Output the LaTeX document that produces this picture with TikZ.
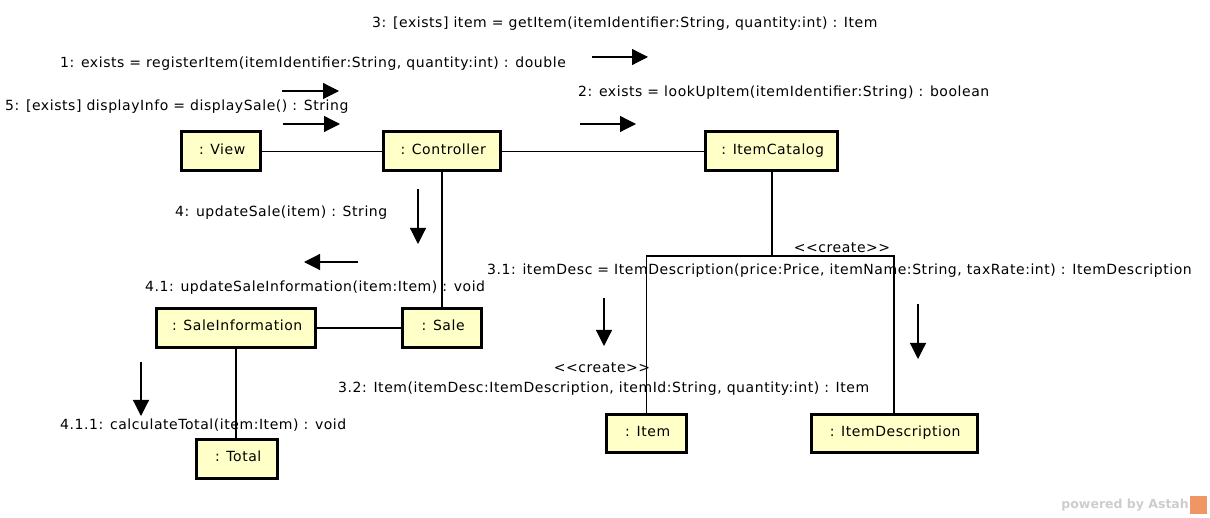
\documentclass[tikz,border=0pt]{standalone}
\usepackage{fontspec}
\setmainfont{DejaVu Sans}[LetterSpace=4]
\usetikzlibrary{arrows.meta}
\definecolor{boxfill}{RGB}{255,255,200}
\definecolor{astahgray}{RGB}{205,205,205}
\definecolor{astahorange}{RGB}{240,150,100}
\newfontfamily\wmfont{DejaVu Sans}
\newcommand{\objtext}[1]{\raisebox{5pt}{\,#1}}
\tikzset{
  obj/.style={draw=black, line width=3pt, fill=boxfill, inner sep=0pt, minimum height=39pt, font=\fontsize{14}{16}\selectfont},
  msg/.style={anchor=west, inner sep=0pt, font=\fontsize{14}{16}\selectfont, yshift=-2pt},
  link/.style={draw=black, line width=1.1pt},
  flow/.style={draw=black, line width=1.2pt, -{Triangle[length=16pt,width=16pt]}},
}
\begin{document}
\begin{tikzpicture}[x=1pt,y=-1pt]
\useasboundingbox (0,0) rectangle (1210,518);
% objects
\node[obj, minimum width=79pt] (view) at (221,151.5) {\objtext{: View}};
\node[obj, minimum width=117pt] (ctrl) at (442,151.5) {\objtext{: Controller}};
\node[obj, minimum width=132pt] (cat) at (771.5,151.5) {\objtext{: ItemCatalog}};
\node[obj, minimum width=159pt] (sinfo) at (236,328) {\objtext{: SaleInformation}};
\node[obj, minimum width=79pt] (sale) at (442,328) {\objtext{: Sale}};
\node[obj, minimum width=81pt] (total) at (237,459) {\objtext{: Total}};
\node[obj, minimum width=80pt, minimum height=38pt] (item) at (646.5,433.5) {\objtext{: Item}};
\node[obj, minimum width=166pt, minimum height=38pt] (idesc) at (894,433.5) {\objtext{: ItemDescription}};
% links
\draw[link] (view.east) -- (ctrl.west);
\draw[link] (ctrl.east) -- (cat.west);
\draw[link] (ctrl.south) -- (ctrl.south |- sale.north);
\draw[link] (sinfo.east) -- (sale.west);
\draw[link] (sinfo.south) -- (sinfo.south |- total.north);
\coordinate (fork) at (772,256);
\draw[link] (cat.south -| fork) -- (fork);
\draw[link] (item.north) |- (fork) -| (idesc.north);
% messages
\node[msg] (m3) at (372,22) {3: [exists] item = getItem(itemIdentifier:String, quantity:int) : Item};
\node[msg] (m1) at (60,62) {1: exists = registerItem(itemIdentifier:String, quantity:int) : double};
\node[msg] (m2) at (578,91) {2: exists = lookUpItem(itemIdentifier:String) : boolean};
\node[msg] (m5) at (5,105) {5: [exists] displayInfo = displaySale() : String};
\node[msg] (m4) at (175,211) {4: updateSale(item) : String};
\node[msg] (m41) at (145,286) {4.1: updateSaleInformation(item:Item) : void};
\node[msg] (m411) at (60,423) {4.1.1: calculateTotal(item:Item) : void};
\node[msg] (m31) at (487,269) {3.1: itemDesc = ItemDescription(price:Price, itemName:String, taxRate:int) : ItemDescription};
\node[msg] (m32) at (338,387) {3.2: Item(itemDesc:ItemDescription, itemId:String, quantity:int) : Item};
\node[msg, anchor=center] (c1) at (842,246) {<{}<create>{}>};
\node[msg, anchor=center] (c2) at (602,366) {<{}<create>{}>};
% message arrows
\draw[flow] (592,57) -- (648,57);
\draw[flow] (282,91) -- (339,91);
\draw[flow] (283,124) -- (340,124);
\draw[flow] (580,124) -- (636,124);
\draw[flow] (418,189) -- (418,244);
\draw[flow] (358,262) -- (304,262);
\draw[flow] (141,362) -- (141,416);
\draw[flow] (604,298) -- (604,346);
\draw[flow] (918,304) -- (918,359);
% watermark
\node[anchor=east, inner sep=0pt, text=astahgray, font=\wmfont\bfseries\fontsize{12.5}{14}\selectfont] (wm) at (1189,505) {powered by Astah};
\fill[astahorange] (1190,496) rectangle (1207,514);
\end{tikzpicture}
\end{document}
